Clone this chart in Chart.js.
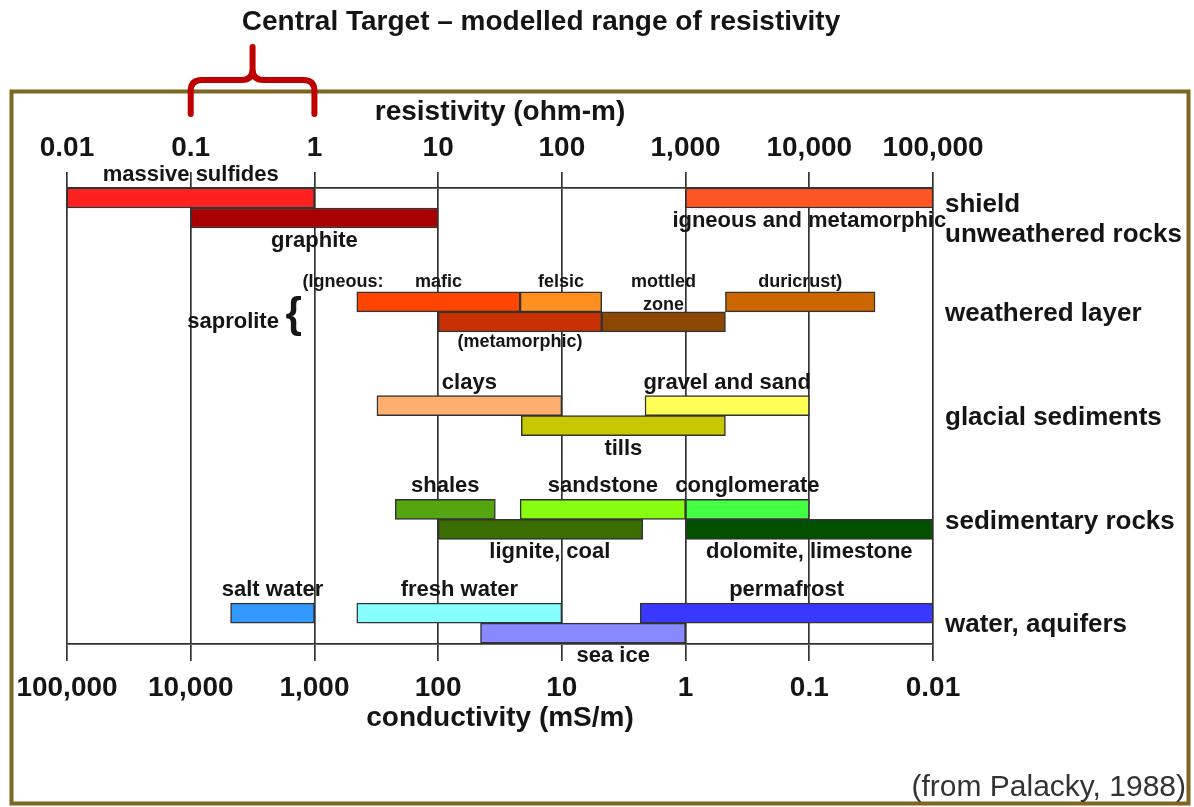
<!DOCTYPE html>
<html><head><meta charset="utf-8">
<script src="https://cdn.jsdelivr.net/npm/chart.js@4.4.1/dist/chart.umd.min.js"></script>
<style>html,body{margin:0;padding:0;background:#fff;}canvas{display:block;}</style>
</head><body>
<canvas id="c" width="1194" height="807"></canvas>
<script>
// ---------------- data ----------------
const chartTitle = 'Central Target \u2013 modelled range of resistivity';
const sourceNote = '(from Palacky, 1988)';
const materials = ['massive sulfides','graphite','igneous and metamorphic','mafic','felsic','metamorphic','mottled zone','duricrust','clays','tills','gravel and sand','shales','sandstone','conglomerate','lignite, coal','dolomite, limestone','salt water','fresh water','sea ice','permafrost'];
const barLabels = ['massive sulfides','graphite','igneous and metamorphic','mafic','felsic','(metamorphic)','mottled\nzone','duricrust)','clays','tills','gravel and sand','shales','sandstone','conglomerate','lignite, coal','dolomite, limestone','salt water','fresh water','sea ice','permafrost'];
const resLow  = [0.01, 0.1, 1000, 2.2, 46, 10, 210, 2100, 3.2, 47, 470, 4.5, 46, 1000, 10, 1000, 0.21, 2.2, 22, 430];
const resHigh = [1, 10, 100000, 46, 210, 210, 2100, 34000, 100, 2100, 10000, 29, 1000, 10000, 450, 100000, 1, 100, 1000, 100000];
const groupIdx = [0,0,0,1,1,1,1,1,2,2,2,3,3,3,3,3,4,4,4,4];
const laneIdx  = [0,1,0,0,0,1,1,0,0,1,0,0,0,0,1,1,0,0,1,0];
const labelSide = ['above','below','below','above','above','below','above','above','above','below','above','above','above','above','below','below','above','above','below','above'];
const labelAt = [null,null,null,null,null,null,null,null,null,null,null,null,null,null,80,null,null,null,260,null];
const barColors = ['#FF2020','#A80000','#FF5522','#FF4400','#FF9020','#C83200','#8C4700','#CC6600','#FFB070','#C8C800','#FFFF55','#55A510','#88FF10','#44FF44','#3A6E00','#005000','#3399FF','#88FFFF','#8888FF','#3838FF'];
const groupLabels = [['shield','unweathered rocks'],'weathered layer','glacial sediments','sedimentary rocks','water, aquifers'];
const resistivityTicks = [0.01,0.1,1,10,100,1000,10000,100000];
const resistivityLabels = ['0.01','0.1','1','10','100','1,000','10,000','100,000'];
const conductivityLabels = ['100,000','10,000','1,000','100','10','1','0.1','0.01'];
const targetRange = [0.1, 1];
const noteTexts = ['(Igneous:', 'saprolite', '{'];
const noteAt = [1.7, 0.22, 0.68];

// ---------------- layout / style ----------------
const GS = 5.19; // group spacing in lane units
const FONT = "'Liberation Sans', Arial, Helvetica, sans-serif";
const INK = '#151515';
Chart.defaults.font.family = FONT;
Chart.defaults.color = INK;

const barData = materials.map((m, i) => ({ x: [resLow[i], resHigh[i]], y: groupIdx[i] * GS + laneIdx[i] + 0.5 }));

const decorations = {
  id: 'decorations',
  beforeDraw(chart) {
    const ctx = chart.ctx;
    ctx.save();
    ctx.fillStyle = '#fff';
    ctx.fillRect(0, 0, chart.width, chart.height);
    ctx.restore();
  },
  afterDatasetsDraw(chart) {
    const ctx = chart.ctx;
    const xs = chart.scales.x, ys = chart.scales.y;
    const meta = chart.getDatasetMeta(0);
    ctx.save();
    ctx.fillStyle = INK;
    ctx.textAlign = 'center';
    ctx.textBaseline = 'middle';
    meta.data.forEach((bar, i) => {
      const small = groupIdx[i] === 1;
      const size = small ? 18 : 22;
      const lh = small ? 23 : 25;
      const gap = small ? 10 : 13;
      const v = labelAt[i] != null ? labelAt[i] : Math.sqrt(resLow[i] * resHigh[i]);
      const x = xs.getPixelForValue(v);
      const top = bar.y - bar.height / 2, bottom = bar.y + bar.height / 2;
      const lines = barLabels[i].split('\n');
      ctx.font = `bold ${size}px ${FONT}`;
      lines.forEach((ln, k) => {
        const y = labelSide[i] === 'above' ? top - (lines.length > 1 ? 7 : gap) - (lines.length - 1 - k) * lh : bottom + gap + k * lh;
        ctx.fillText(ln, x, y);
      });
    });
    // notes in weathered layer group
    const gTop = ys.getPixelForValue(1 * GS);
    ctx.font = `bold 18px ${FONT}`;
    ctx.fillText(noteTexts[0], xs.getPixelForValue(noteAt[0]), gTop - 10);
    ctx.font = `bold 22px ${FONT}`;
    ctx.fillText(noteTexts[1], xs.getPixelForValue(noteAt[1]), ys.getPixelForValue(1 * GS + 1.5));
    ctx.font = `bold 42px ${FONT}`;
    ctx.fillText(noteTexts[2], xs.getPixelForValue(noteAt[2]), ys.getPixelForValue(1 * GS + 1.2));
    ctx.restore();
  },
  afterDraw(chart) {
    const ctx = chart.ctx;
    const xs = chart.scales.x;
    ctx.save();
    // frame
    ctx.strokeStyle = '#7D6720';
    ctx.lineWidth = 4;
    ctx.strokeRect(11.5, 91.5, 1177, 712);
    // title
    ctx.fillStyle = INK;
    ctx.font = `bold 28px ${FONT}`;
    ctx.textAlign = 'center';
    ctx.textBaseline = 'middle';
    ctx.fillText(chartTitle, 541, 22);
    // source
    ctx.font = `30px ${FONT}`;
    ctx.fillStyle = '#333';
    ctx.textAlign = 'right';
    ctx.fillText(sourceNote, 1186, 788);
    // red bracket over target range
    const x1 = xs.getPixelForValue(targetRange[0]);
    const x2 = xs.getPixelForValue(targetRange[1]);
    const xm = xs.getPixelForValue(Math.sqrt(targetRange[0] * targetRange[1]));
    const yEnd = 114, yArm = 80, yPeak = 47, r = 11;
    ctx.beginPath();
    ctx.moveTo(x1, yEnd);
    ctx.lineTo(x1, yArm + r);
    ctx.quadraticCurveTo(x1, yArm, x1 + r, yArm);
    ctx.lineTo(xm - r, yArm);
    ctx.quadraticCurveTo(xm, yArm, xm, yArm - r);
    ctx.lineTo(xm, yPeak);
    ctx.moveTo(xm, yArm - r);
    ctx.quadraticCurveTo(xm, yArm, xm + r, yArm);
    ctx.lineTo(x2 - r, yArm);
    ctx.quadraticCurveTo(x2, yArm, x2, yArm + r);
    ctx.lineTo(x2, yEnd);
    ctx.strokeStyle = '#C00000';
    ctx.lineWidth = 6;
    ctx.lineCap = 'round';
    ctx.lineJoin = 'round';
    ctx.stroke();
    ctx.restore();
  }
};

const decadeTicks = (scale) => { scale.ticks = resistivityTicks.map(v => ({ value: v, major: true })); };

new Chart(document.getElementById('c'), {
  type: 'bar',
  data: {
    datasets: [{
      data: barData,
      backgroundColor: barColors,
      borderColor: '#333',
      borderWidth: 1.5,
      borderSkipped: false,
      barThickness: 20,
      xAxisID: 'x',
      yAxisID: 'y'
    }]
  },
  options: {
    indexAxis: 'y',
    responsive: false,
    animation: false,
    events: [],
    layout: { padding: { top: 90, bottom: 68, left: 67, right: 0 } },
    plugins: { legend: { display: false }, tooltip: { enabled: false }, title: { display: false } },
    scales: {
      x: {
        type: 'logarithmic', position: 'top', min: 0.01, max: 100000, offset: false,
        afterBuildTicks: decadeTicks,
        afterFit: (s) => { s.height = 98; },
        grid: { color: '#333', lineWidth: 1.7, tickLength: 16, drawTicks: true, offset: false },
        border: { display: true, color: '#333', width: 1.7 },
        ticks: { autoSkip: false, maxRotation: 0, padding: 7, color: INK,
                 font: { size: 28, weight: 'bold' },
                 callback: (v, i) => resistivityLabels[i] },
        title: { display: true, text: 'resistivity (ohm-m)', color: INK,
                 font: { size: 28, weight: 'bold' }, padding: { top: 5, bottom: 0 } }
      },
      x2: {
        type: 'logarithmic', position: 'bottom', min: 0.01, max: 100000, offset: false,
        afterBuildTicks: decadeTicks,
        afterFit: (s) => { s.height = 95; },
        grid: { color: '#333', lineWidth: 1.7, tickLength: 17, drawTicks: true, drawOnChartArea: false, offset: false },
        border: { display: true, color: '#333', width: 1.7 },
        ticks: { autoSkip: false, maxRotation: 0, padding: 10, color: INK,
                 font: { size: 28, weight: 'bold' },
                 callback: (v, i) => conductivityLabels[i] },
        title: { display: true, text: 'conductivity (mS/m)', color: INK,
                 font: { size: 28, weight: 'bold' }, padding: { top: 0, bottom: 4 } }
      },
      y: {
        type: 'linear', position: 'right', reverse: true, min: 0, max: 22.8,
        offset: false, grace: 0, bounds: 'data',
        afterBuildTicks: (s) => {
          s.ticks = groupLabels.map((g, i) => ({ value: i * GS + 1 + (Array.isArray(g) ? 0.6 : 0.1) }));
        },
        afterFit: (s) => { s.width = 261; },
        grid: { display: false, drawTicks: false, offset: false },
        border: { display: false },
        ticks: { autoSkip: false, padding: 12, color: INK,
                 font: { size: 26, weight: 'bold', lineHeight: 1.15 },
                 callback: (v, i) => groupLabels[i] }
      }
    }
  },
  plugins: [decorations]
});
</script>
</body></html>
